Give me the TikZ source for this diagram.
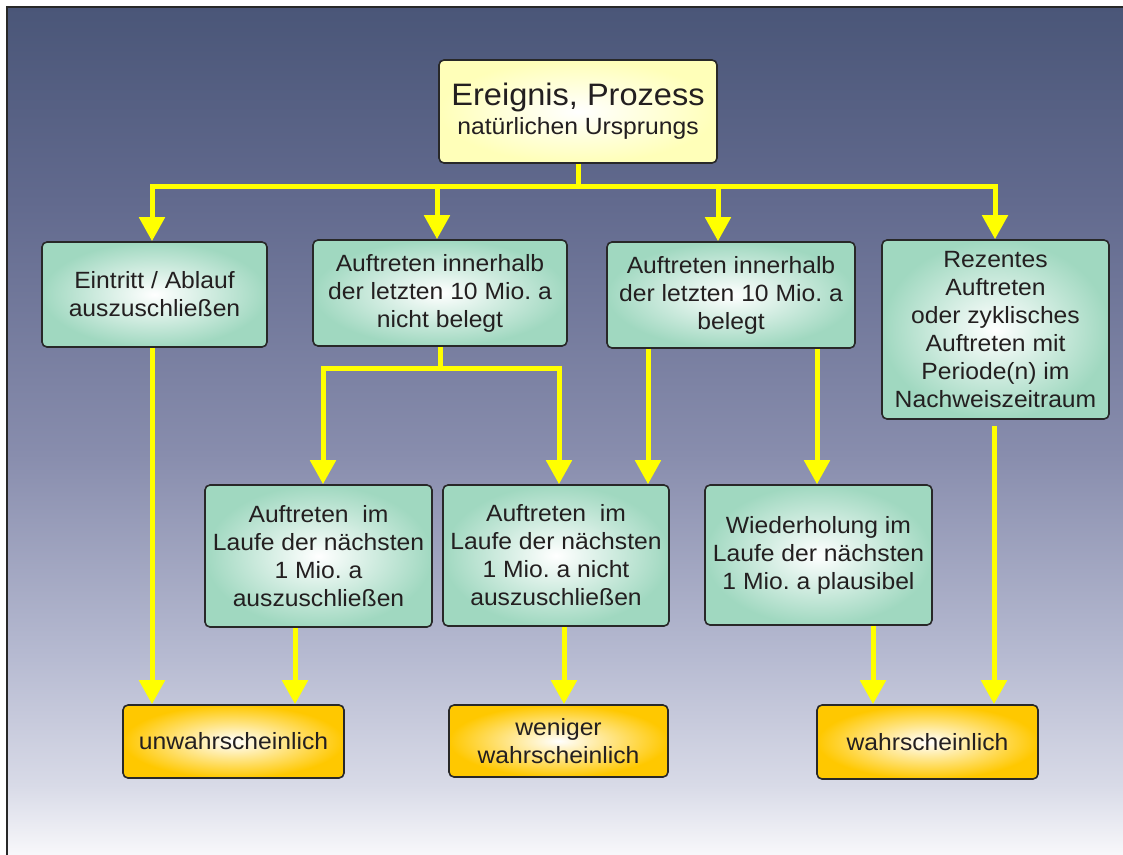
\documentclass[tikz,border=0pt]{standalone}
\usepackage{fontspec}
\setmainfont{Liberation Sans}[FakeStretch=1.05]
\usetikzlibrary{arrows.meta}
\definecolor{bgA}{RGB}{74,86,120}
\definecolor{bgB}{RGB}{98,106,142}
\definecolor{bgC}{RGB}{136,141,173}
\definecolor{bgD}{RGB}{182,186,209}
\definecolor{bgE}{RGB}{216,218,231}
\definecolor{bgF}{RGB}{250,250,252}
\definecolor{mint}{RGB}{160,216,192}
\definecolor{gold}{RGB}{255,200,0}
\definecolor{cream}{RGB}{255,255,185}
\definecolor{arrowy}{RGB}{255,255,0}
\definecolor{edge}{RGB}{40,40,40}
\definecolor{txt}{RGB}{35,31,32}
\pgfdeclareverticalshading{bgshade}{100bp}{color(0bp)=(bgF); color(25bp)=(bgF); color(29.4bp)=(bgE); color(37bp)=(bgD); color(48.8bp)=(bgC); color(63.6bp)=(bgB); color(75bp)=(bgA); color(100bp)=(bgA)}
\frenchspacing
\begin{document}
\begin{tikzpicture}[x=1pt,y=-1pt,
  box/.style={draw=edge, line width=1.6pt, rounded corners=5pt, inner sep=0pt, align=center, text=txt, font=\fontsize{23.5}{28}\selectfont},
  greenbox/.style={box, inner color=white, outer color=mint},
  goldbox/.style={box, inner color=white, outer color=gold},
  topbox/.style={box, inner color=white, outer color=cream},
  link/.style={draw=arrowy, line width=5pt},
  bar/.style={link, line cap=rect},
  arrow/.style={link, -{Triangle[width=25pt,length=24pt]}},
]
\useasboundingbox (0,0) rectangle (1123,854);
\fill[white] (0,0) rectangle (1123,854);
\shade[shading=bgshade] (7,7) rectangle (1130,860);
\draw[edge, line width=2pt] (1130,7) -- (7,7) -- (7,860);

% nodes
\node[topbox, minimum width=278pt, minimum height=103pt] (top) at (578,111.5)
  {{\fontsize{31}{31}\selectfont Ereignis, Prozess}\\[1pt] natürlichen Ursprungs};
\node[greenbox, minimum width=225pt, minimum height=105pt] (A) at (154.5,294.5)
  {Eintritt / Ablauf\\auszuschließen};
\node[greenbox, minimum width=254pt, minimum height=106pt] (B) at (440,293)
  {Auftreten innerhalb\\der letzten 10 Mio. a\\nicht belegt};
\node[greenbox, minimum width=248pt, minimum height=106pt] (C) at (731,295)
  {Auftreten innerhalb\\der letzten 10 Mio. a\\belegt};
\node[greenbox, minimum width=227pt, minimum height=179pt] (D) at (995.5,329.5)
  {Rezentes\\Auftreten\\oder zyklisches\\Auftreten mit\\Periode(n) im\\Nachweiszeitraum};
\node[greenbox, minimum width=227pt, minimum height=142pt] (E) at (318.5,556)
  {Auftreten\ \ im\\Laufe der nächsten\\1 Mio. a\\auszuschließen};
\node[greenbox, minimum width=226pt, minimum height=141pt] (F) at (556,555.5)
  {Auftreten\ \ im\\Laufe der nächsten\\1 Mio. a nicht\\auszuschließen};
\node[greenbox, minimum width=227pt, minimum height=140pt] (G) at (818.5,555)
  {Wiederholung im\\Laufe der nächsten\\1 Mio. a plausibel};
\node[goldbox, minimum width=221pt, minimum height=73pt] (U) at (233.5,741.5)
  {unwahrscheinlich};
\node[goldbox, minimum width=219pt, minimum height=72pt] (W) at (558.5,741)
  {weniger\\wahrscheinlich};
\node[goldbox, minimum width=221pt, minimum height=74pt] (Wa) at (927.5,742)
  {wahrscheinlich};

% junction coordinates
\coordinate (hub) at (578,186);
\coordinate (hA) at (152,186);
\coordinate (hB) at (437,186);
\coordinate (hC) at (718,186);
\coordinate (hD) at (995,186);
\coordinate (bj) at (440,368);
\coordinate (bE) at (323,368);
\coordinate (bF) at (559,368);
\coordinate (xCF) at (648,0);
\coordinate (xCG) at (817,0);
\coordinate (xAU) at (152,0);
\coordinate (xEU) at (295,0);
\coordinate (xFW) at (564,0);
\coordinate (xGW) at (873,0);
\coordinate (xDW) at (994,0);

% top distribution
\draw[link] (top.south) -- (hub);
\draw[bar] (hA) -- (hD);
\draw[arrow] (hA) -- (hA |- A.north);
\draw[arrow] (hB) -- (hB |- B.north);
\draw[arrow] (hC) -- (hC |- C.north);
\draw[arrow] (hD) -- (hD |- D.north);

% from B
\draw[link] (B.south) -- (bj);
\draw[bar] (bE) -- (bF);
\draw[arrow] (bE) -- (bE |- E.north);
\draw[arrow] (bF) -- (bF |- F.north);

% from C
\draw[arrow] (C.south -| xCF) -- (F.north -| xCF);
\draw[arrow] (C.south -| xCG) -- (G.north -| xCG);

% to results
\draw[arrow] (A.south -| xAU) -- (U.north -| xAU);
\draw[arrow] (E.south -| xEU) -- (U.north -| xEU);
\draw[arrow] (F.south -| xFW) -- (W.north -| xFW);
\draw[arrow] (G.south -| xGW) -- (Wa.north -| xGW);
\draw[arrow, shorten <=6pt] (D.south -| xDW) -- (Wa.north -| xDW);
\end{tikzpicture}
\end{document}
